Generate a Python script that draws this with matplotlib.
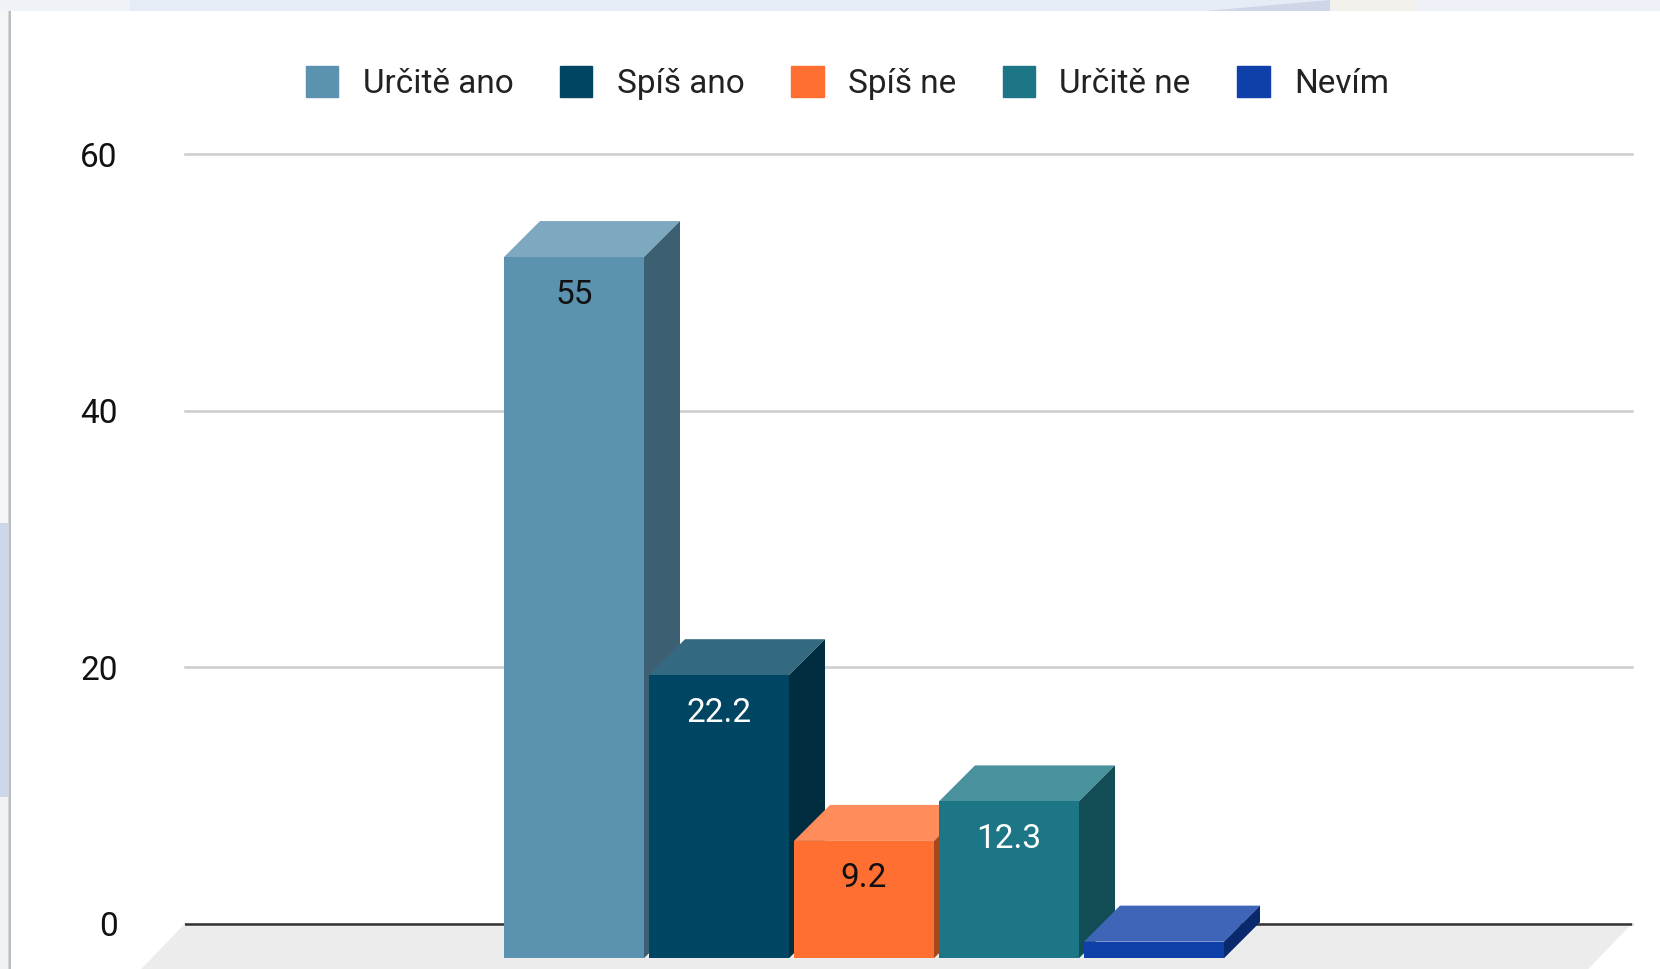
import matplotlib
matplotlib.use('Agg')
import matplotlib.pyplot as plt
from matplotlib.patches import Patch, Polygon, Rectangle

categories = ['Určitě ano', 'Spíš ano', 'Spíš ne', 'Určitě ne', 'Nevím']
values = [55, 22.2, 9.2, 12.3, 1.3]
value_labels = ['55', '22.2', '9.2', '12.3', '']
label_colors = ['#111111', '#ffffff', '#111111', '#ffffff', '#ffffff']
front_colors = ['#5b92b0', '#004561', '#ff6f31', '#1c7685', '#0f3fa8']
top_colors = ['#7ca8c0', '#336a81', '#ff8c5a', '#49919d', '#3f65b9']
side_colors = ['#3c5f72', '#002d3f', '#a6481f', '#124d56', '#0a296d']
y_ticks = [0, 20, 40, 60]

W, H = 1660, 969
plt.rcParams['font.family'] = ['Roboto', 'DejaVu Sans']
FONT_SIZE = 24

fig = plt.figure(figsize=(W / 100, H / 100), dpi=100, facecolor='#e6ecf5')


def px_rect(x0, y0, x1, y1, color, zorder=-10):
    fig.add_artist(Rectangle((x0 / W, 1 - y1 / H), (x1 - x0) / W, (y1 - y0) / H,
                             transform=fig.transFigure, fc=color, ec='none', zorder=zorder))


def px_poly(pts, color, zorder=-9):
    fig.add_artist(Polygon([(x / W, 1 - y / H) for x, y in pts],
                           transform=fig.transFigure, fc=color, ec='none', zorder=zorder))


# blurred desktop behind the card
px_rect(0, 0, 130, 11, '#eff2f7')
px_rect(1330, 0, 1415, 11, '#f3f1ec')
px_rect(1415, 0, W, 11, '#edf1f7')
px_poly([(1206, 11), (1330, 0), (1330, 11)], '#cfd6e8')
px_rect(0, 11, 10, 523, '#f4f5f7')
px_rect(0, 523, 10, 797, '#ccd7ea')
px_rect(0, 797, 10, H, '#f1f2f4')
# card with a soft left shadow
px_rect(8, 11, 9, H, '#d5d7dc', zorder=-8)
px_rect(9, 11, 11, H, '#b9bcc2', zorder=-8)
px_rect(11, 11, W, H, '#ffffff', zorder=-7)

# axes: x is the bar slot, y is the value, down to the bottom of the image
px_per_unit = (923.5 - 154) / 60
slot = 145.0
ax = fig.add_axes([185 / W, 0, (1632 - 185) / W, 1 - 154 / H])
ax.set_xlim((185 - 574) / slot, (1632 - 574) / slot)
ax.set_ylim(-(H - 923.5) / px_per_unit, 60)
ax.patch.set_visible(False)
for s in ax.spines.values():
    s.set_visible(False)

ax.set_yticks(y_ticks)
ax.set_yticklabels([str(t) for t in y_ticks], fontsize=FONT_SIZE, color='#111111')
ax.tick_params(axis='y', length=0, pad=48.5)
ax.set_xticks([])
ax.yaxis.grid(True, color='#cdcdcd', linewidth=1.8, zorder=1, clip_on=False)
ax.set_axisbelow(True)

# 3d depth of the bars in data units
depth_x = 36 / slot
depth_y = 36 / px_per_unit
front_drop = (958.2 - 923.5) / px_per_unit
front_scale = 0.994
bar_w = 140 / slot

# floor
xmin, xmax = ax.get_xlim()
ymin = ax.get_ylim()[0]
floor_dx = depth_x * (-ymin) / depth_y * 0.96
ax.add_patch(Polygon([(xmin, 0), (xmax, 0), (xmax - floor_dx, ymin), (xmin - floor_dx, ymin)],
                     fc='#ececec', ec='none', zorder=1.5, clip_on=False))
ax.axhline(0, color='#333333', linewidth=1.8, zorder=2)

for i, v in enumerate(values):
    z = 3 + i
    h = v * front_scale
    left = i - bar_w / 2
    right = i + bar_w / 2
    top = -front_drop + h
    ax.bar(i, h, width=bar_w, bottom=-front_drop, color=front_colors[i], zorder=z + 0.2)
    ax.add_patch(Polygon([(left, top), (right, top), (right + depth_x, top + depth_y),
                          (left + depth_x, top + depth_y)],
                         fc=top_colors[i], ec='none', zorder=z))
    ax.add_patch(Polygon([(right, top), (right + depth_x, top + depth_y),
                          (right + depth_x, -front_drop + depth_y), (right, -front_drop)],
                         fc=side_colors[i], ec='none', zorder=z))
    if value_labels[i]:
        ax.annotate(value_labels[i], xy=(i, top), xytext=(0, -37.5 * 0.72),
                    textcoords='offset points', ha='center', va='center',
                    fontsize=FONT_SIZE, color=label_colors[i], zorder=z + 0.5)

handles = [Patch(facecolor=c, edgecolor=c, linewidth=1, joinstyle='round') for c in front_colors]
fig.legend(handles, categories, loc='center', bbox_to_anchor=(847.5 / W, 1 - 83 / H),
           ncol=5, frameon=False, fontsize=FONT_SIZE, labelcolor='#222222', borderpad=0,
           handlelength=0.97, handleheight=1.08, handletextpad=0.73, columnspacing=1.4)

plt.savefig('out.png', dpi=100, facecolor=fig.get_facecolor())
plt.close()
